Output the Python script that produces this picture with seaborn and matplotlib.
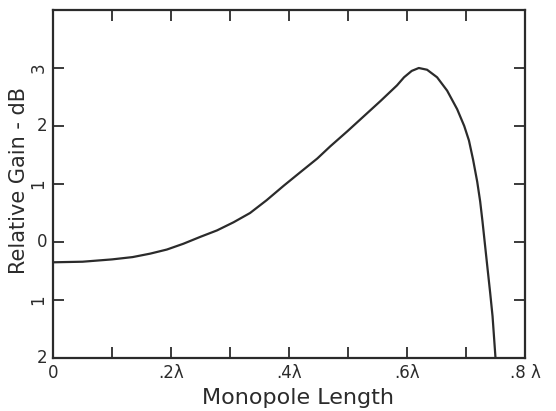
import numpy as np
import pandas as pd
import matplotlib
matplotlib.use('Agg')
import matplotlib.pyplot as plt
import seaborn as sns

#%% Podaci ocitani sa slike
monopole_length = [0.0, 0.05, 0.1, 0.135, 0.165, 0.193, 0.221, 0.25, 0.278, 0.306,
                   0.334, 0.362, 0.391, 0.42, 0.448, 0.47, 0.499, 0.527, 0.555,
                   0.583, 0.595, 0.608, 0.62, 0.634, 0.651, 0.668, 0.685, 0.697,
                   0.705, 0.712, 0.719, 0.724, 0.728, 0.732, 0.736, 0.741, 0.745,
                   0.75]
relative_gain = [-0.35, -0.34, -0.30, -0.26, -0.20, -0.13, -0.03, 0.09, 0.20, 0.34,
                 0.50, 0.72, 0.97, 1.21, 1.44, 1.65, 1.91, 2.17, 2.43,
                 2.70, 2.84, 2.95, 3.0, 2.97, 2.84, 2.61, 2.29, 2.0,
                 1.75, 1.42, 1.04, 0.70, 0.35, -0.03, -0.41, -0.88, -1.28,
                 -2.0]

x_ticks = [0.0, 0.2, 0.4, 0.6, 0.8]
x_minor = [0.1, 0.3, 0.5, 0.7]
x_labels = ['0', '.2λ', '.4λ', '.6λ', '.8 λ']
y_ticks = [-2, -1, 0, 1, 2, 3]
y_labels = ['2', '1', '0', '1', '2', '3']
y_label_rot = [0, 90, 0, 90, 0, 90]

df = pd.DataFrame({'length': monopole_length, 'gain': relative_gain})

#%% Crtanje
sns.set_style('ticks')
plt.rcParams['font.family'] = ['DejaVu Sans']
ink = '#2b2b2b'

fig = plt.figure(figsize=(5.56, 4.11), dpi=100)
ax = fig.add_axes([53/556, 53/411, 472/556, 348/411])

sns.lineplot(data=df, x='length', y='gain', ax=ax, color=ink, linewidth=1.6,
             sort=False, estimator=None)

ax.set_xlim(0, 0.8)
ax.set_ylim(-2, 4)
ax.set_xticks(x_ticks)
ax.set_xticks(x_minor, minor=True)
ax.set_xticklabels(x_labels, fontsize=12, color=ink)
ax.set_yticks(y_ticks)
ax.set_yticklabels(y_labels, fontsize=12, color=ink)
for lbl, r in zip(ax.get_yticklabels(), y_label_rot):
    lbl.set_rotation(r)
    lbl.set_va('center')

ax.tick_params(axis='both', which='both', direction='in', length=8, width=1.3,
               colors=ink, top=True, right=True)
ax.tick_params(axis='x', which='both', pad=4)
ax.tick_params(axis='y', which='both', pad=4)

for s in ax.spines.values():
    s.set_visible(True)
    s.set_linewidth(1.6)
    s.set_color(ink)

ax.set_xlabel('Monopole Length', fontsize=16, color=ink)
ax.xaxis.set_label_coords((298 - 53) / 472, -0.085)
ax.set_ylabel('Relative Gain - dB', fontsize=15, color=ink)
ax.yaxis.set_label_coords(-0.05, 0.51)

fig.savefig('out.png', dpi=100)
